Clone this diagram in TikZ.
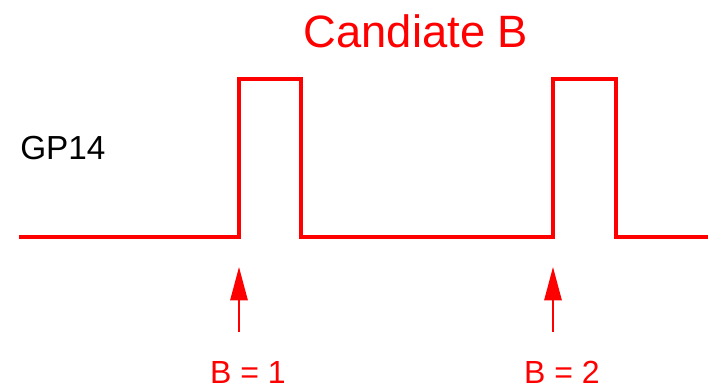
\documentclass[tikz,border=0pt]{standalone}
\usepackage{fontspec}
\setmainfont{Liberation Sans}
\usetikzlibrary{arrows.meta,positioning}
\definecolor{sred}{HTML}{FF0000}
\tikzset{
  wave/.style={draw=sred,line width=2.6pt,line join=miter},
  title/.style={text=sred,font=\fontsize{34}{40}\selectfont,inner sep=0pt,anchor=base},
  sig/.style={text=black,font=\fontsize{25}{30}\selectfont,inner sep=0pt,anchor=base west},
  lbl/.style={text=sred,font=\fontsize{24}{29}\selectfont,inner sep=0pt,anchor=base},
  marker/.style={-{Triangle[length=25pt,width=13pt]},draw=sred,fill=sred,line width=1.4pt},
}
\begin{document}
\begin{tikzpicture}[x=0.75pt,y=-0.75pt]
  \useasboundingbox (0,0) rectangle (708,389);
  % title and signal name
  \node[title] (title) at (416,47) {Candiate B};
  \node[sig] (gp) at (20,159) {GP14};
  % waveform
  \draw[wave] (19,237) -- (239,237) -- (239,79) -- (301,79) -- (301,237)
    -- (553,237) -- (553,79) -- (616,79) -- (616,237) -- (708,237);
  % markers
  \foreach \x/\v [count=\ix] in {239/1,553/2} {
    \coordinate (tail\ix) at (\x,332);
    \coordinate (tip\ix) at (\x,267);
    \draw[marker] (tail\ix) -- (tip\ix);
    \node[lbl] (val\ix) at (\x+9,383) {B = \v};
  }
\end{tikzpicture}
\end{document}
